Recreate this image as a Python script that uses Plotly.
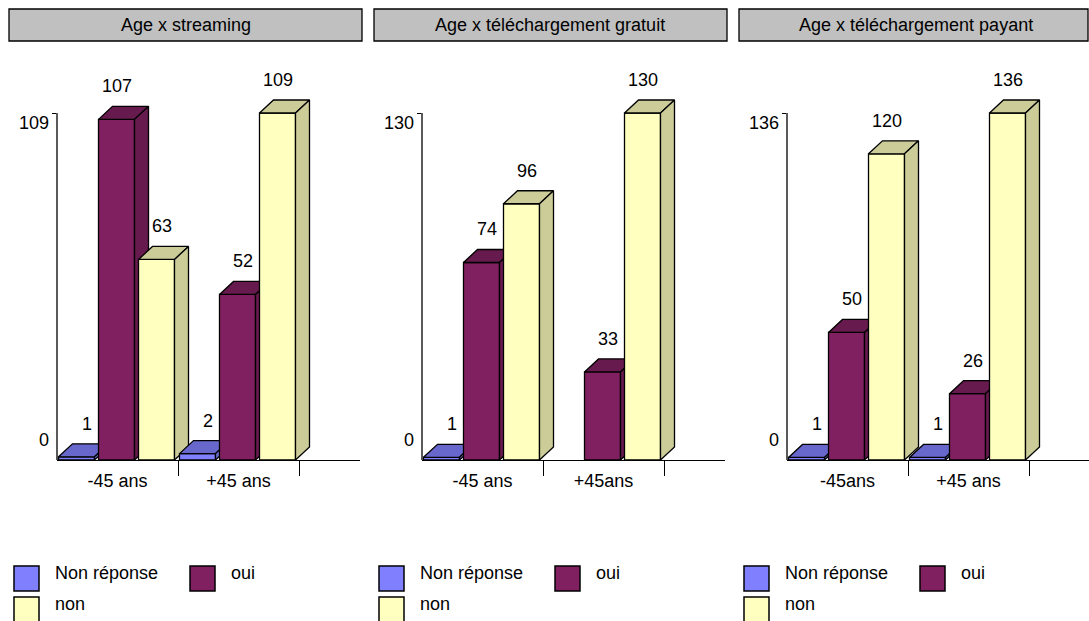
import plotly.graph_objects as go

# ---- data ----
panel_titles = ["Age x streaming", "Age x téléchargement gratuit", "Age x téléchargement payant"]
group_labels = [["-45 ans", "+45 ans"], ["-45 ans", "+45ans"], ["-45ans", "+45 ans"]]
series_names = ["Non réponse", "oui", "non"]

non_reponse = [[1, 2], [1, None], [1, 1]]
oui = [[107, 52], [74, 33], [50, 26]]
non = [[63, 109], [96, 130], [120, 136]]
axis_max = [109, 130, 136]

series_values = [non_reponse, oui, non]

# ---- styling ----
front_colors = ["#8080FF", "#802060", "#FFFFC0"]
shade_colors = ["#6868CC", "#661A4D", "#CCCC99"]
FONT = "Liberation Sans, Arial, sans-serif"
FS = 18

W, H = 1089, 621
PANEL_STEP = 365
AXIS_LEFT = 57
AXIS_LEN = 303
GROUP_PX = 121
BAR_PX = 36
BAR_PITCH = 40
BAR_OFFSET = 1.5
DEPTH_X = 14
DEPTH_Y = 13
BASE_PX = 460
TOP_PX = 60
MAX_PX = 113
EDGE = dict(color="black", width=1.3)


def py(px):
    return 1 - px / H


fig = go.Figure()
layout = {}
shapes = []
annotations = []

for i in range(3):
    xa = "x" if i == 0 else f"x{i + 1}"
    ya = "y" if i == 0 else f"y{i + 1}"
    xkey = "xaxis" if i == 0 else f"xaxis{i + 1}"
    ykey = "yaxis" if i == 0 else f"yaxis{i + 1}"

    x0px = AXIS_LEFT + PANEL_STEP * i
    x1px = min(x0px + AXIS_LEN, W)
    unit_px = (BASE_PX - MAX_PX) / axis_max[i]
    y_top = (BASE_PX - TOP_PX) / unit_px
    dx = DEPTH_X / GROUP_PX
    dy = DEPTH_Y / unit_px

    layout[xkey] = dict(
        domain=[x0px / W, x1px / W], range=[0, (x1px - x0px) / GROUP_PX],
        anchor=ya, showgrid=False, zeroline=False,
        showline=True, linecolor="black", linewidth=1.3,
        tickvals=[0.5, 1.5], ticktext=group_labels[i], ticks="",
        ticklabelstandoff=4,
        tickfont=dict(family=FONT, size=FS, color="black"),
        minor=dict(tickvals=[1, 2], ticks="outside", ticklen=15,
                   tickcolor="black", tickwidth=1.3),
        fixedrange=True,
    )
    layout[ykey] = dict(
        domain=[py(BASE_PX), py(TOP_PX)], range=[0, y_top],
        anchor=xa, showgrid=False, zeroline=False, showline=False,
        tickvals=[axis_max[i]], ticks="outside", ticklen=4,
        tickcolor="black", tickwidth=1.3, showticklabels=False,
        fixedrange=True,
    )

    # vertical value axis, from 0 up to the panel maximum
    shapes.append(dict(type="line", xref="paper", yref=ya,
                       x0=x0px / W, x1=x0px / W,
                       y0=0, y1=axis_max[i], line=EDGE, layer="above"))
    for val, shift in ((axis_max[i], -10), (0, 20)):
        annotations.append(dict(xref=xa, yref=ya, x=0, y=val, text=str(val),
                                showarrow=False, xanchor="right", yanchor="middle",
                                xshift=-6, yshift=shift,
                                font=dict(family=FONT, size=FS, color="black")))

    # 3D bars, drawn left to right so each bar hides the side of its neighbour
    for g in range(2):
        for k in range(3):
            v = series_values[k][i][g]
            if v is None:
                continue
            xl = g + (BAR_OFFSET + k * BAR_PITCH) / GROUP_PX
            xr = xl + BAR_PX / GROUP_PX
            faces = [
                ([xl, xl, xr, xr, xl], [0, v, v, 0, 0], front_colors[k]),
                ([xl, xl + dx, xr + dx, xr, xl], [v, v + dy, v + dy, v, v], shade_colors[k]),
                ([xr, xr, xr + dx, xr + dx, xr], [0, v, v + dy, dy, 0], shade_colors[k]),
            ]
            for fx, fy, col in faces:
                fig.add_trace(go.Scatter(
                    x=fx, y=fy, xaxis=xa, yaxis=ya, mode="lines",
                    fill="toself", fillcolor=col, line=EDGE,
                    showlegend=False, hoverinfo="skip",
                ))
            annotations.append(dict(xref=xa, yref=ya, x=xr, y=v + dy, text=str(v),
                                    showarrow=False, xanchor="right", yanchor="middle",
                                    xshift=-1, yshift=20,
                                    font=dict(family=FONT, size=FS, color="black")))

    # panel title box
    off = PANEL_STEP * i
    tx0, tx1 = 9 + off, min(362 + off, W - 1)
    shapes.append(dict(type="rect", xref="paper", yref="paper",
                       x0=tx0 / W, x1=tx1 / W, y0=py(41), y1=py(9),
                       fillcolor="#C0C0C0", line=dict(color="black", width=1.3)))
    annotations.append(dict(xref="paper", yref="paper", x=(9 + 362 + 2 * off) / 2 / W,
                            y=py(25), text=panel_titles[i], showarrow=False,
                            xanchor="center", yanchor="middle",
                            font=dict(family=FONT, size=FS, color="black")))

    # legend
    legend_items = [(14, 566, 53, 0), (190, 566, 229, 1), (14, 597, 53, 2)]
    for bx, by, tx, k in legend_items:
        shapes.append(dict(type="rect", xref="paper", yref="paper",
                           x0=(bx + off) / W, x1=(bx + 25 + off) / W,
                           y0=py(by + 25), y1=py(by),
                           fillcolor=front_colors[k], line=dict(color="black", width=1.5)))
        annotations.append(dict(xref="paper", yref="paper", x=(tx + off) / W,
                                y=py(by + 7), text=series_names[k], showarrow=False,
                                xanchor="left", yanchor="middle",
                                font=dict(family=FONT, size=FS, color="black")))

fig.update_layout(
    width=W, height=H, margin=dict(l=0, r=0, t=0, b=0),
    paper_bgcolor="white", plot_bgcolor="white",
    showlegend=False, shapes=shapes, annotations=annotations,
    **layout,
)

fig.write_html("out.html", config={"displayModeBar": False})
